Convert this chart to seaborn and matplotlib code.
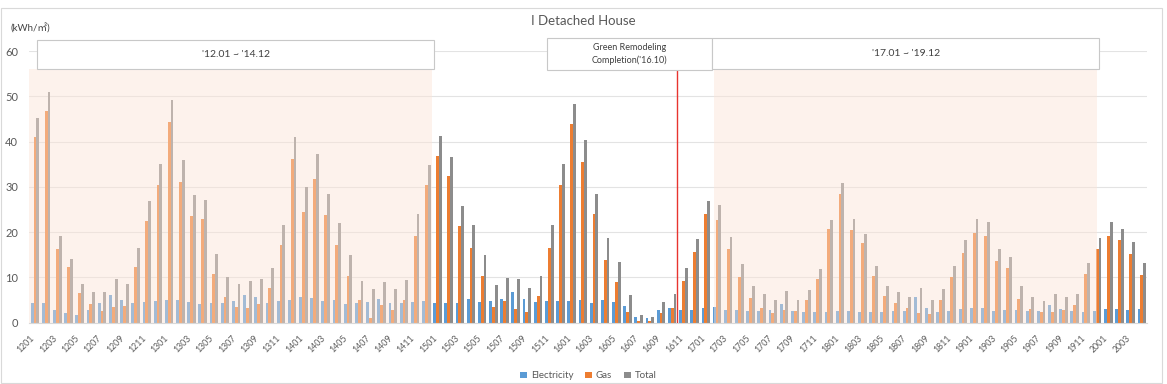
import numpy as np
import pandas as pd
import matplotlib
matplotlib.use("Agg")
import matplotlib.pyplot as plt
import matplotlib.transforms as mtransforms
import seaborn as sns
from matplotlib.patches import Rectangle

# monthly labels 1201 .. 2004
months = [f"{y:02d}{m:02d}" for y in range(12, 21) for m in range(1, 13)][:100]

electricity = [
    4.3, 4.3, 2.9, 2.1, 1.8, 2.9, 4.3, 6.1, 5.0, 4.4, 4.6, 4.8,
    5.0, 5.0, 4.5, 4.1, 4.3, 4.3, 4.8, 6.1, 5.7, 4.4, 4.8, 5.0,
    5.6, 5.4, 4.8, 5.0, 4.1, 4.4, 4.6, 5.2, 4.4, 4.3, 4.6, 4.8,
    4.4, 4.4, 4.4, 5.2, 4.6, 4.8, 5.2, 6.7, 5.2, 4.5, 4.8, 4.8,
    4.8, 5.0, 4.4, 5.0, 4.6, 3.7, 1.2, 1.0, 2.8, 3.2, 2.9, 2.9,
    3.2, 3.5, 2.8, 2.8, 2.6, 2.6, 2.9, 4.1, 2.6, 2.4, 2.3, 2.3,
    2.6, 2.6, 2.3, 2.3, 2.3, 2.6, 2.6, 5.7, 3.2, 2.3, 2.6, 3.0,
    3.2, 3.3, 2.6, 2.9, 2.9, 2.6, 2.6, 3.9, 3.0, 2.6, 2.4, 2.6,
    3.0, 3.0, 2.8, 3.0,
]
gas = [
    41.0, 46.8, 16.3, 12.2, 6.6, 4.1, 2.6, 3.4, 3.8, 12.4, 22.4, 30.4,
    44.3, 31.1, 23.5, 23.0, 10.7, 5.7, 3.5, 3.2, 4.1, 7.7, 17.1, 36.1,
    24.5, 31.7, 23.8, 17.1, 10.3, 5.0, 1.0, 3.9, 2.9, 5.1, 19.2, 30.4,
    36.8, 32.4, 21.4, 16.5, 10.4, 3.4, 4.8, 3.0, 2.3, 6.0, 16.5, 30.5,
    43.8, 35.5, 24.1, 13.8, 9.0, 2.4, 0.4, 0.4, 2.1, 3.2, 9.3, 15.7,
    24.0, 22.6, 16.2, 10.0, 5.4, 3.2, 2.1, 2.9, 2.6, 5.0, 9.6, 20.6,
    28.5, 20.4, 17.5, 10.3, 5.9, 4.3, 3.2, 2.1, 1.9, 5.0, 10.1, 15.4,
    19.9, 19.1, 13.6, 12.0, 5.2, 3.0, 2.3, 2.3, 2.8, 4.0, 10.7, 16.2,
    19.1, 18.2, 15.1, 10.5,
]
total = [
    45.3, 51.0, 19.1, 14.0, 8.5, 6.8, 6.7, 9.6, 8.5, 16.6, 26.8, 35.1,
    49.2, 36.0, 28.2, 27.2, 15.1, 10.1, 8.5, 9.3, 9.6, 12.0, 21.5, 41.1,
    29.9, 37.2, 28.5, 22.1, 14.9, 9.3, 7.4, 9.0, 7.5, 9.4, 23.9, 34.8,
    41.2, 36.5, 25.7, 21.5, 14.9, 8.3, 9.9, 9.6, 7.6, 10.4, 21.5, 35.1,
    48.4, 40.3, 28.5, 18.8, 13.3, 6.1, 1.7, 1.3, 4.6, 6.3, 12.0, 18.5,
    26.9, 26.1, 19.0, 12.9, 8.1, 6.3, 5.0, 7.0, 5.1, 7.2, 11.8, 22.6,
    30.9, 22.9, 19.7, 12.6, 8.1, 6.8, 5.7, 7.6, 5.0, 7.4, 12.6, 18.2,
    22.8, 22.3, 16.3, 14.6, 8.1, 5.6, 4.8, 6.3, 5.7, 6.3, 13.2, 18.6,
    22.3, 20.8, 17.9, 13.2,
]

series = ["Electricity", "Gas", "Total"]
colors = ["#5B9BD5", "#ED7D31", "#8C8C8C"]

df = pd.DataFrame({"month": months * 3,
                   "value": electricity + gas + total,
                   "type": np.repeat(series, len(months))})

sns.set_style("white")
plt.rcParams["font.family"] = ["Lato", "Noto Sans CJK KR", "DejaVu Sans"]

fig = plt.figure(figsize=(11.67, 3.84), dpi=100)
ax = fig.add_axes([0.0252, 0.1596, 0.958, 0.7075])

sns.barplot(data=df, x="month", y="value", hue="type", palette=colors,
            width=0.76, gap=0, ax=ax, saturation=1, zorder=2,
            linewidth=0, edgecolor="none")

ax.set_ylim(0, 60)
ax.set_xlim(-0.5, len(months) - 0.5)
ax.set_yticks(range(0, 61, 10))
ax.yaxis.grid(True, color="#E3E3E3", lw=0.8, zorder=0)
ax.set_axisbelow(True)
for s in ["top", "right", "left"]:
    ax.spines[s].set_visible(False)
ax.spines["bottom"].set_color("#D9D9D9")
ax.set_xlabel("")
ax.set_ylabel("")
ax.set_xticks(range(0, len(months), 2))
ax.set_xticklabels(months[::2], rotation=45, ha="right", rotation_mode="anchor",
                   fontsize=6.3, color="#595959")
ax.tick_params(axis="x", length=0, pad=8)
shift = mtransforms.ScaledTranslation(-5 / 100, 0, fig.dpi_scale_trans)
for lab in ax.get_xticklabels():
    lab.set_transform(lab.get_transform() + shift)
ax.tick_params(axis="y", length=0, pad=8, labelsize=8, labelcolor="#595959")

# shaded periods drawn over the bars
for x0, x1 in [(-0.5, 35.5), (60.7, 95.0)]:
    ax.add_patch(Rectangle((x0, 0), x1 - x0, 56, facecolor="#FCE4D6",
                           alpha=0.45, edgecolor="none", zorder=3))

# remodeling line
ax.plot([57.45, 57.45], [0, 55.8], color="#E8342F", lw=1, zorder=4)

# label boxes
boxes = [(0.18, 35.7, 56.0, 62.4, "'12.01 ~ '14.12", 7.5),
         (45.8, 60.6, 55.8, 62.9, "Green Remodeling\nCompletion('16.10)", 6.5),
         (60.6, 95.2, 56.0, 62.9, "'17.01 ~ '19.12", 7.5)]
for x0, x1, y0, y1, txt, fs in boxes:
    ax.add_patch(Rectangle((x0, y0), x1 - x0, y1 - y0, facecolor="white",
                           edgecolor="#C8C8C8", lw=0.8, zorder=5, clip_on=False))
    ax.text((x0 + x1) / 2, (y0 + y1) / 2, txt, ha="center", va="center",
            fontsize=fs, color="#404040", zorder=6, linespacing=1.5)

fig.text(0.5, 0.946, "I Detached House", ha="center", va="center",
         fontsize=9.5, color="#595959")
fig.text(0.009, 0.925, "(kWh/㎡)", ha="left", va="center", fontsize=7,
         color="#404040")

sns.move_legend(ax, "center", bbox_to_anchor=(0.5, -0.196), ncol=3,
                frameon=False, title=None, fontsize=7, handlelength=0.7,
                handleheight=0.7, columnspacing=1.2, handletextpad=0.4,
                labelcolor="#595959")

fig.add_artist(Rectangle((0.001, 0.002), 0.995, 0.978, transform=fig.transFigure,
                         fill=False, edgecolor="#D9D9D9", lw=0.8))

fig.savefig("out.png", dpi=100)
